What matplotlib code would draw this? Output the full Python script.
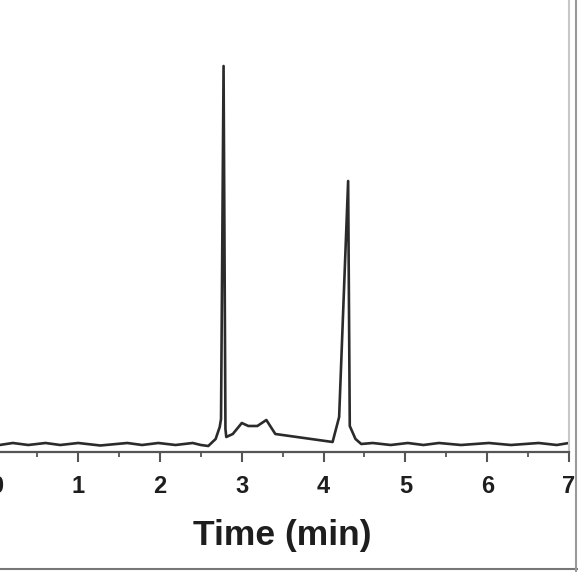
import matplotlib
matplotlib.use("Agg")
import matplotlib.pyplot as plt
from matplotlib.lines import Line2D
from matplotlib.ticker import MultipleLocator

# chromatogram trace (time in min, intensity in arbitrary units)
time_min = [0.04, 0.20, 0.39, 0.60, 0.78, 1.00, 1.27, 1.60, 1.78, 1.98, 2.19, 2.40,
            2.50, 2.59, 2.68, 2.73, 2.746, 2.777, 2.80, 2.81, 2.89, 3.00, 3.08, 3.19,
            3.30, 3.41, 4.11, 4.19, 4.30, 4.32, 4.39, 4.46, 4.60, 4.82, 5.03, 5.22,
            5.41, 5.68, 6.02, 6.29, 6.63, 6.85, 7.00]
intensity = [1, 3, 1, 3, 1, 3, 0.5, 3, 1, 3, 1, 3,
             1, 0, 7, 19, 27, 380, 17, 9, 12, 23, 20, 20,
             26, 12, 4, 29, 265, 20, 7, 2, 3, 1, 3, 1,
             3, 1, 3, 1, 3, 1, 3]

xticks = [0, 1, 2, 3, 4, 5, 6, 7]

fig = plt.figure(figsize=(5.78, 5.72), dpi=100)
# left spine falls just off the canvas, top edge at the canvas top
ax = fig.add_axes([-0.0062, 0.2098, 0.9906, 0.7902])

ax.plot(time_min, intensity, color='#2b2b2b', lw=1.9, solid_joinstyle='round')

ax.set_xlim(0, 7)
ax.set_ylim(-6, 446)
ax.set_xticks(xticks)
ax.set_xticklabels([str(t) for t in xticks])
ax.xaxis.set_minor_locator(MultipleLocator(0.5))
ax.set_yticks([])

for side in ['left', 'top']:
    ax.spines[side].set_visible(False)
ax.spines['bottom'].set_color('#555555')
ax.spines['bottom'].set_linewidth(1.6)
ax.spines['right'].set_color('#c8c8c8')
ax.spines['right'].set_linewidth(1.5)

ax.tick_params(axis='x', which='major', direction='out', length=7.5, width=1.5,
               color='#555555', pad=9, labelsize=17, labelcolor='#1e1e1e')
ax.tick_params(axis='x', which='minor', direction='out', length=3.5, width=1.3,
               color='#555555')
for lab in ax.get_xticklabels():
    lab.set_fontweight('bold')
    lab.set_fontfamily('Liberation Sans')

ax.set_xlabel('Time (min)', fontsize=25.5, fontweight='bold', family='Liberation Sans',
              color='#1e1e1e', labelpad=15)

# frame of the screenshot
fig.add_artist(Line2D([0, 1], [0.006, 0.006], transform=fig.transFigure,
                      color='#777777', lw=1.5))
fig.add_artist(Line2D([0.997, 0.997], [0, 1], transform=fig.transFigure,
                      color='#999999', lw=1.5))

fig.savefig('out.png', dpi=100)
